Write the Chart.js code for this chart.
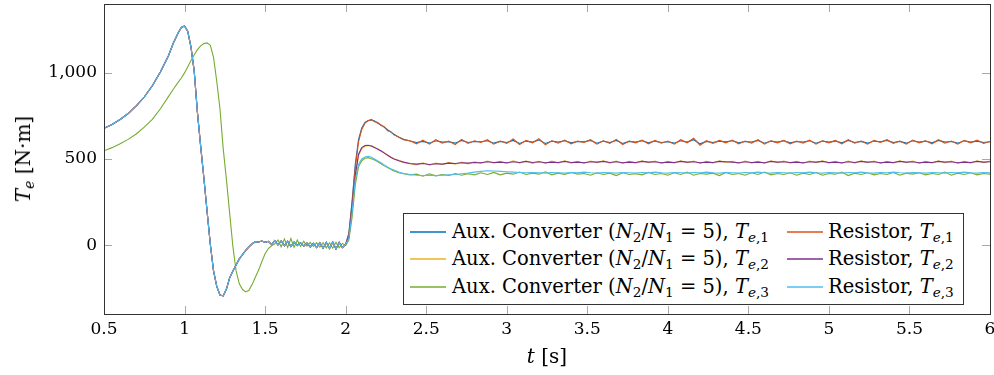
<!DOCTYPE html>
<html>
<head>
<meta charset="utf-8">
<script src="https://cdn.jsdelivr.net/npm/chart.js@4.4.0/dist/chart.umd.min.js"></script>
<style>
  html, body { margin: 0; padding: 0; background: #fff; }
  #wrap { position: relative; width: 994px; height: 375px; font-family: "DejaVu Serif", serif; color: #000; }
  #c { position: absolute; left: 0; top: 0; }
  .title { position: absolute; font-size: 20px; white-space: nowrap; line-height: 1; }
  sub { font-size: 70%; vertical-align: -0.28em; line-height: 0; }
  #legend { position: absolute; left: 403px; top: 213px; width: 561px; height: 92px; box-sizing: border-box;
            border: 1px solid #333; background: #fff; font-size: 19.5px; }
  .sw { position: absolute; width: 36px; height: 2px; opacity: 0.75; transform: translateY(-50%); }
  .lab { position: absolute; white-space: nowrap; line-height: 1; transform: translateY(-50%); }
</style>
</head>
<body>
<div id="wrap">
  <canvas id="c" width="994" height="375"></canvas>
  <div class="title" style="left:23px;top:159px;transform:translate(-50%,-50%) rotate(-90deg)"><i>T</i><sub><i>e</i></sub> [N·m]</div>
  <div class="title" style="left:547px;top:356px;transform:translate(-50%,-50%)"><i>t</i> [s]</div>
  <div id="legend">
    <span class="sw" style="left:6px;top:18px;background:#0072BD"></span>
    <span class="lab" style="left:48px;top:18px">Aux. Converter (<i>N</i><sub>2</sub>/<i>N</i><sub>1</sub> = 5), <i>T</i><sub><i>e</i>,1</sub></span>
    <span class="sw" style="left:6px;top:45px;background:#EDB120"></span>
    <span class="lab" style="left:48px;top:45px">Aux. Converter (<i>N</i><sub>2</sub>/<i>N</i><sub>1</sub> = 5), <i>T</i><sub><i>e</i>,2</sub></span>
    <span class="sw" style="left:6px;top:73px;background:#77AC30"></span>
    <span class="lab" style="left:48px;top:73px">Aux. Converter (<i>N</i><sub>2</sub>/<i>N</i><sub>1</sub> = 5), <i>T</i><sub><i>e</i>,3</sub></span>
    <span class="sw" style="left:383px;top:18px;background:#D95319"></span>
    <span class="lab" style="left:424px;top:18px">Resistor, <i>T</i><sub><i>e</i>,1</sub></span>
    <span class="sw" style="left:383px;top:45px;background:#7E2F8E"></span>
    <span class="lab" style="left:424px;top:45px">Resistor, <i>T</i><sub><i>e</i>,2</sub></span>
    <span class="sw" style="left:383px;top:73px;background:#4DBEEE"></span>
    <span class="lab" style="left:424px;top:73px">Resistor, <i>T</i><sub><i>e</i>,3</sub></span>
  </div>
</div>
<script>
// axis ticks
const xTicks = [0.5, 1, 1.5, 2, 2.5, 3, 3.5, 4, 4.5, 5, 5.5, 6];
const yTicks = [0, 500, 1000];

// time before the step at t = 2 s
const tPre = [0.5, 0.55, 0.6, 0.65, 0.7, 0.75, 0.8, 0.85, 0.9, 0.93, 0.96, 0.98,
  1.0, 1.02, 1.04, 1.06, 1.08, 1.1, 1.12, 1.14, 1.16, 1.18,
  1.2, 1.22, 1.24, 1.26, 1.28, 1.3, 1.32, 1.34, 1.36, 1.38,
  1.4, 1.42, 1.44, 1.46, 1.48, 1.5, 1.52, 1.54, 1.56, 1.58,
  1.6, 1.62, 1.64, 1.66, 1.68, 1.7, 1.72, 1.74, 1.76, 1.78,
  1.8, 1.82, 1.84, 1.86, 1.88, 1.9, 1.92, 1.94, 1.96, 1.98, 2.0];

// machines 1/2 (fast swing) and machine 3 of aux converter case (slow swing)
const preFast = [678, 700, 729, 764, 808, 860, 925, 1005, 1100, 1172, 1232, 1264,
  1272, 1240, 1150, 1010, 770, 575, 390, 195, 5, -150,
  -240, -290, -295, -255, -190, -150, -115, -80, -55, -30,
  -10, 8, 20, 18, 24, 16, 22, 4, 26, 2,
  24, -4, 22, -8, 18, -2, 14, -6, 12, -10,
  10, -14, 14, -18, 16, -20, 18, -22, 16, -14, 4];
const preSlow = [548, 566, 588, 614, 645, 685, 730, 792, 862, 905, 945, 970,
  1000, 1035, 1072, 1105, 1135, 1157, 1170, 1174, 1160, 1090,
  950, 790, 560, 380, 186, -8, -150, -225, -258, -272,
  -262, -228, -185, -145, -95, -50, -20, -4, 8, 30,
  -10, 36, -14, 38, -12, 30, -8, 22, -6, 16,
  -8, 14, -12, 14, -16, 14, -18, 16, -16, 10, -2];

// time after the step
const tPost = [2.02, 2.04, 2.06, 2.08, 2.1, 2.12, 2.14, 2.16, 2.18, 2.2,
  2.22, 2.24, 2.26, 2.28, 2.3, 2.33, 2.36, 2.4,
  2.44, 2.48, 2.52, 2.56, 2.6, 2.64, 2.68, 2.72, 2.76, 2.8,
  2.84, 2.88, 2.92, 2.96, 3.0, 3.04, 3.08, 3.12, 3.16, 3.2,
  3.24, 3.28, 3.32, 3.36, 3.4, 3.44, 3.48, 3.52, 3.56, 3.6,
  3.64, 3.68, 3.72, 3.76, 3.8, 3.84, 3.88, 3.92, 3.96, 4.0,
  4.04, 4.08, 4.12, 4.16, 4.2, 4.24, 4.28, 4.32, 4.36, 4.4,
  4.44, 4.48, 4.52, 4.56, 4.6, 4.64, 4.68, 4.72, 4.76, 4.8,
  4.84, 4.88, 4.92, 4.96, 5.0, 5.04, 5.08, 5.12, 5.16, 5.2,
  5.24, 5.28, 5.32, 5.36, 5.4, 5.44, 5.48, 5.52, 5.56, 5.6,
  5.64, 5.68, 5.72, 5.76, 5.8, 5.84, 5.88, 5.92, 5.96, 6.0];

const auxTe1 = [70, 255, 470, 612, 680, 712, 724, 726, 720, 708,
  698, 684, 670, 656, 644, 626, 614, 604,
  596, 602, 592, 606, 598, 600, 592, 608, 596, 602,
  600, 606, 592, 602, 596, 608, 590, 604, 598, 610,
  590, 604, 598, 606, 594, 602, 600, 608, 592, 604,
  596, 608, 590, 602, 598, 606, 594, 604, 596, 600,
  592, 606, 598, 612, 588, 602, 596, 604, 600, 606,
  594, 602, 598, 608, 592, 604, 598, 606, 594, 602,
  598, 606, 592, 604, 598, 604, 594, 608, 596, 602,
  592, 604, 600, 608, 596, 602, 592, 606, 598, 604,
  594, 608, 598, 602, 592, 606, 598, 604, 596, 600];
const auxTe2 = [45, 205, 395, 520, 560, 574, 578, 576, 568, 558,
  548, 536, 524, 512, 502, 492, 480, 472,
  466, 478, 464, 476, 468, 480, 470, 482, 472, 484,
  474, 488, 476, 486, 474, 490, 476, 488, 474, 486,
  474, 488, 476, 490, 476, 486, 474, 488, 478, 490,
  476, 488, 474, 486, 476, 490, 478, 488, 474, 486,
  476, 490, 478, 488, 474, 486, 476, 490, 480, 486,
  474, 488, 476, 486, 474, 490, 478, 488, 476, 486,
  474, 488, 478, 490, 476, 486, 474, 488, 476, 490,
  478, 488, 474, 486, 476, 490, 478, 488, 474, 486,
  476, 490, 478, 488, 474, 486, 476, 490, 478, 488];
const auxTe3 = [30, 160, 350, 455, 490, 504, 508, 502, 494, 484,
  472, 460, 450, 440, 430, 420, 414, 408,
  412, 400, 414, 402, 410, 404, 416, 406, 414, 408,
  420, 410, 422, 408, 418, 412, 424, 410, 418, 412,
  426, 408, 418, 410, 422, 412, 416, 406, 420, 410,
  418, 404, 420, 410, 414, 408, 422, 410, 416, 406,
  420, 410, 424, 406, 416, 412, 418, 404, 422, 410,
  416, 406, 420, 410, 424, 408, 416, 410, 420, 406,
  418, 410, 422, 406, 416, 412, 424, 404, 418, 410,
  420, 408, 416, 410, 422, 406, 418, 412, 420, 408,
  416, 410, 424, 406, 418, 410, 420, 408, 416, 412];
const resTe1 = [60, 240, 450, 600, 672, 708, 722, 730, 716, 712,
  694, 688, 664, 660, 640, 628, 612, 606,
  588, 610, 586, 612, 592, 604, 584, 614, 590, 606,
  596, 612, 586, 604, 590, 616, 584, 608, 594, 618,
  582, 606, 592, 610, 588, 604, 596, 612, 586, 606,
  590, 614, 584, 604, 594, 610, 588, 608, 592, 604,
  586, 612, 594, 620, 580, 606, 590, 608, 594, 610,
  588, 604, 592, 612, 586, 606, 594, 608, 588, 604,
  592, 610, 586, 606, 594, 608, 588, 612, 592, 604,
  586, 608, 596, 612, 590, 604, 586, 610, 594, 606,
  588, 612, 592, 604, 586, 608, 594, 610, 590, 602];
const resTe2 = [50, 215, 405, 528, 566, 578, 580, 575, 566, 556,
  546, 534, 522, 510, 500, 490, 482, 474,
  470, 474, 468, 472, 470, 476, 474, 478, 476, 480,
  478, 484, 480, 482, 478, 484, 480, 486, 480, 484,
  478, 482, 480, 486, 480, 482, 478, 484, 482, 486,
  480, 484, 478, 482, 480, 486, 482, 484, 478, 482,
  480, 486, 482, 484, 478, 482, 480, 486, 484, 482,
  478, 484, 480, 482, 478, 486, 482, 484, 480, 482,
  478, 484, 482, 486, 480, 482, 478, 484, 480, 486,
  482, 484, 478, 482, 480, 486, 482, 484, 478, 482,
  480, 486, 482, 484, 478, 482, 480, 486, 482, 484];
const resTe3 = [40, 190, 380, 470, 500, 512, 516, 510, 500, 488,
  478, 466, 454, 444, 436, 424, 416, 410,
  406, 404, 406, 403, 406, 408, 410, 414, 418, 424,
  428, 432, 430, 428, 426, 424, 422, 420, 422, 420,
  418, 422, 420, 418, 422, 420, 424, 420, 418, 422,
  420, 418, 422, 420, 418, 422, 420, 424, 420, 418,
  422, 420, 418, 422, 420, 424, 420, 418, 422, 420,
  418, 422, 420, 424, 420, 418, 422, 420, 418, 422,
  420, 424, 420, 418, 422, 420, 418, 422, 420, 424,
  420, 418, 422, 420, 424, 420, 418, 422, 420, 418,
  422, 420, 418, 422, 420, 424, 420, 418, 422, 420];

const labels = [
  "Aux. Converter (N2/N1 = 5), Te,1", "Aux. Converter (N2/N1 = 5), Te,2", "Aux. Converter (N2/N1 = 5), Te,3",
  "Resistor, Te,1", "Resistor, Te,2", "Resistor, Te,3"
];
const colors = ["#0072BD", "#EDB120", "#77AC30", "#D95319", "#7E2F8E", "#4DBEEE"];
const pre = [preFast, preFast, preSlow, preFast, preFast, preFast];
const post = [auxTe1, auxTe2, auxTe3, resTe1, resTe2, resTe3];

const tAll = tPre.concat(tPost);
const datasets = labels.map((label, i) => {
  const vals = pre[i].concat(post[i]);
  return {
    label: label,
    data: tAll.map((t, k) => ({ x: t, y: vals[k] })),
    borderColor: colors[i],
    borderWidth: 1.1,
    pointRadius: 0,
    fill: false,
    order: labels.length - 1 - i
  };
});

// inward tick marks and the box round the plot
const frame = {
  id: "frame",
  afterDatasetsDraw(chart) {
    const { ctx, chartArea: a, scales } = chart;
    ctx.save();
    ctx.strokeStyle = "#a8a8a8";
    ctx.lineWidth = 1;
    ctx.beginPath();
    xTicks.forEach(v => {
      const px = Math.round(scales.x.getPixelForValue(v)) + 0.5;
      ctx.moveTo(px, a.bottom); ctx.lineTo(px, a.bottom - 8);
      ctx.moveTo(px, a.top); ctx.lineTo(px, a.top + 8);
    });
    yTicks.forEach(v => {
      const py = Math.round(scales.y.getPixelForValue(v)) + 0.5;
      ctx.moveTo(a.left, py); ctx.lineTo(a.left + 8, py);
      ctx.moveTo(a.right, py); ctx.lineTo(a.right - 8, py);
    });
    ctx.stroke();
    ctx.strokeStyle = "#333";
    ctx.strokeRect(a.left + 0.5, a.top + 0.5, a.right - a.left, a.bottom - a.top);
    ctx.restore();
  }
};

const tickFont = { family: "'DejaVu Serif', serif", size: 17 };

new Chart(document.getElementById("c"), {
  type: "line",
  data: { datasets: datasets },
  options: {
    responsive: false,
    animation: false,
    layout: { padding: { top: 4, right: 4, left: 0, bottom: 0 } },
    plugins: { legend: { display: false }, tooltip: { enabled: false } },
    scales: {
      x: {
        type: "linear", min: 0.5, max: 6,
        grid: { display: false, drawTicks: false },
        border: { display: false },
        afterBuildTicks: s => { s.ticks = xTicks.map(v => ({ value: v })); },
        afterFit: s => { s.height = 61; s.paddingLeft = 0; s.paddingRight = 0; },
        ticks: { padding: 5, font: tickFont, color: "#000", maxRotation: 0, autoSkip: false,
                 callback: v => String(v) }
      },
      y: {
        type: "linear", min: -400, max: 1400,
        grid: { display: false, drawTicks: false },
        border: { display: false },
        afterBuildTicks: s => { s.ticks = yTicks.map(v => ({ value: v })); },
        afterFit: s => { s.width = 104; s.paddingTop = 0; s.paddingBottom = 0; },
        ticks: { padding: 7, font: tickFont, color: "#000", autoSkip: false,
                 callback: v => v.toLocaleString("en-US") }
      }
    }
  },
  plugins: [frame]
});
</script>
</body>
</html>
